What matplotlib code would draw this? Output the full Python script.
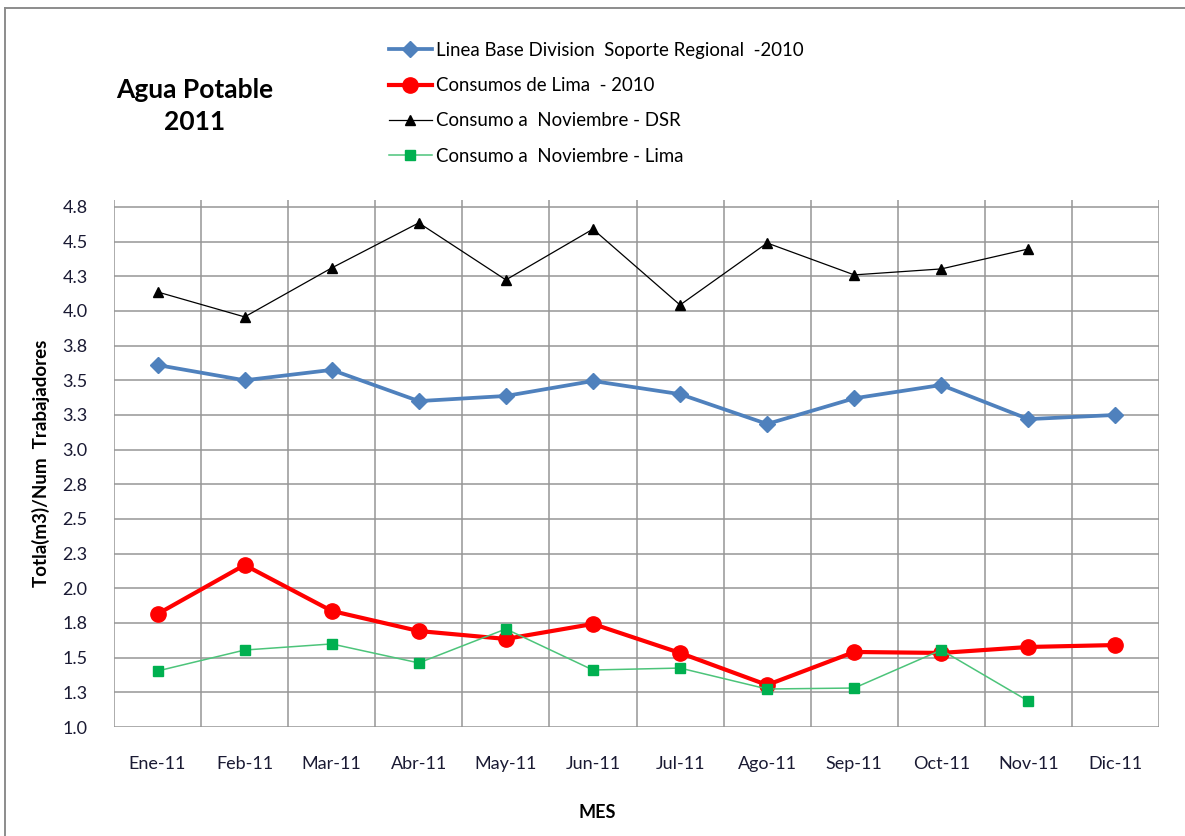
import matplotlib
matplotlib.use("Agg")
import matplotlib.pyplot as plt
from matplotlib.lines import Line2D

plt.rcParams['font.family'] = ['Lato', 'DejaVu Sans']

months = ["Ene-11", "Feb-11", "Mar-11", "Abr-11", "May-11", "Jun-11",
          "Jul-11", "Ago-11", "Sep-11", "Oct-11", "Nov-11", "Dic-11"]
linea_base = [3.61, 3.50, 3.575, 3.35, 3.387, 3.495, 3.40, 3.185, 3.37, 3.466, 3.22, 3.25]
consumos_lima_2010 = [1.815, 2.168, 1.837, 1.692, 1.635, 1.743, 1.534, 1.303, 1.541, 1.534, 1.577, 1.591]
consumo_dsr = [4.137, 3.957, 4.31, 4.635, 4.224, 4.59, 4.043, 4.49, 4.26, 4.303, 4.447]
consumo_lima = [1.404, 1.555, 1.599, 1.462, 1.707, 1.411, 1.425, 1.274, 1.281, 1.555, 1.187]
y_ticks = [1.0, 1.25, 1.5, 1.75, 2.0, 2.25, 2.5, 2.75, 3.0, 3.25, 3.5, 3.75, 4.0, 4.25, 4.5, 4.75]
y_tick_labels = ["1.0", "1.3", "1.5", "1.8", "2.0", "2.3", "2.5", "2.8",
                 "3.0", "3.3", "3.5", "3.8", "4.0", "4.3", "4.5", "4.8"]

W, H = 1185, 836
fig = plt.figure(figsize=(W / 100, H / 100), dpi=100)
fig.patch.set_facecolor('white')

ax = fig.add_axes([114 / W, (H - 727) / H, (1159 - 114) / W, (727 - 200) / H])

x = list(range(len(months)))
grid_c = '#969696'

ax.plot(x, linea_base, color='#4F81BD', lw=2.7, marker='D', ms=8.5,
        mfc='#4F81BD', mec='#4F81BD', label='Linea Base Division  Soporte Regional  -2010', zorder=3)
ax.plot(x, consumos_lima_2010, color='#FF0000', lw=3.0, marker='o', ms=11,
        mfc='#FF0000', mec='#FF0000', label='Consumos de Lima  - 2010', zorder=4)
ax.plot(x[:len(consumo_dsr)], consumo_dsr, color='#000000', lw=0.9, marker='^', ms=7.5,
        mfc='#000000', mec='#000000', label='Consumo a  Noviembre - DSR', zorder=3)
ax.plot(x[:len(consumo_lima)], consumo_lima, color='#4CC47A', lw=1.1, marker='s', ms=7.5,
        mfc='#00B050', mec='#00B050', label='Consumo a  Noviembre - Lima', zorder=5)

ax.set_xlim(-0.5, len(months) - 0.5)
ax.set_ylim(1.0, 4.8)
ax.set_yticks(y_ticks)
ax.set_yticklabels(y_tick_labels)
ax.set_xticks(x)
ax.set_xticklabels(months)

ax.grid(False)
for yv in y_ticks:
    ax.axhline(yv, color=grid_c, lw=1.1, zorder=1)
for xv in [i - 0.5 for i in range(len(months) + 1)]:
    ax.axvline(xv, color=grid_c, lw=1.1, zorder=1)

for s in ax.spines.values():
    s.set_visible(False)
ax.tick_params(axis='both', which='both', length=0)
ax.tick_params(axis='x', pad=21, labelsize=13, colors='#1a1a33')
ax.tick_params(axis='y', pad=19, labelsize=13, colors='#1a1a33')

ax.set_xlabel('MES', fontsize=13, fontweight='bold')
ax.set_ylabel('Totla(m3)/Num  Trabajadores', fontsize=13.5, fontweight='bold')
ax.yaxis.set_label_coords(-(114 - 41) / (1159 - 114), (727 - 463) / (727 - 200))
ax.xaxis.set_label_coords((597 - 114) / (1159 - 114), -(812 - 727) / (727 - 200))
ax.xaxis.label.set_va('center')
ax.yaxis.label.set_va('center')

fig.text(195 / W, 1 - 106 / H, 'Agua Potable\n2011', ha='center', va='center',
         fontsize=19, fontweight='bold', linespacing=1.4)

leg = ax.legend(loc='upper left', bbox_to_anchor=(389 / W, 1 - 42 / H),
                bbox_transform=fig.transFigure, frameon=False, fontsize=13.4,
                handlelength=2.3, handletextpad=0.25, labelspacing=0.98,
                borderaxespad=0, borderpad=0)

# outer chart border (top and left edges visible)
fig.add_artist(Line2D([5 / W, 1.0], [1 - 8 / H, 1 - 8 / H], transform=fig.transFigure,
                      color='#8c8c8c', lw=1.4))
fig.add_artist(Line2D([5 / W, 5 / W], [0.0, 1 - 8 / H], transform=fig.transFigure,
                      color='#8c8c8c', lw=1.4))

fig.savefig('out.png', dpi=100)
